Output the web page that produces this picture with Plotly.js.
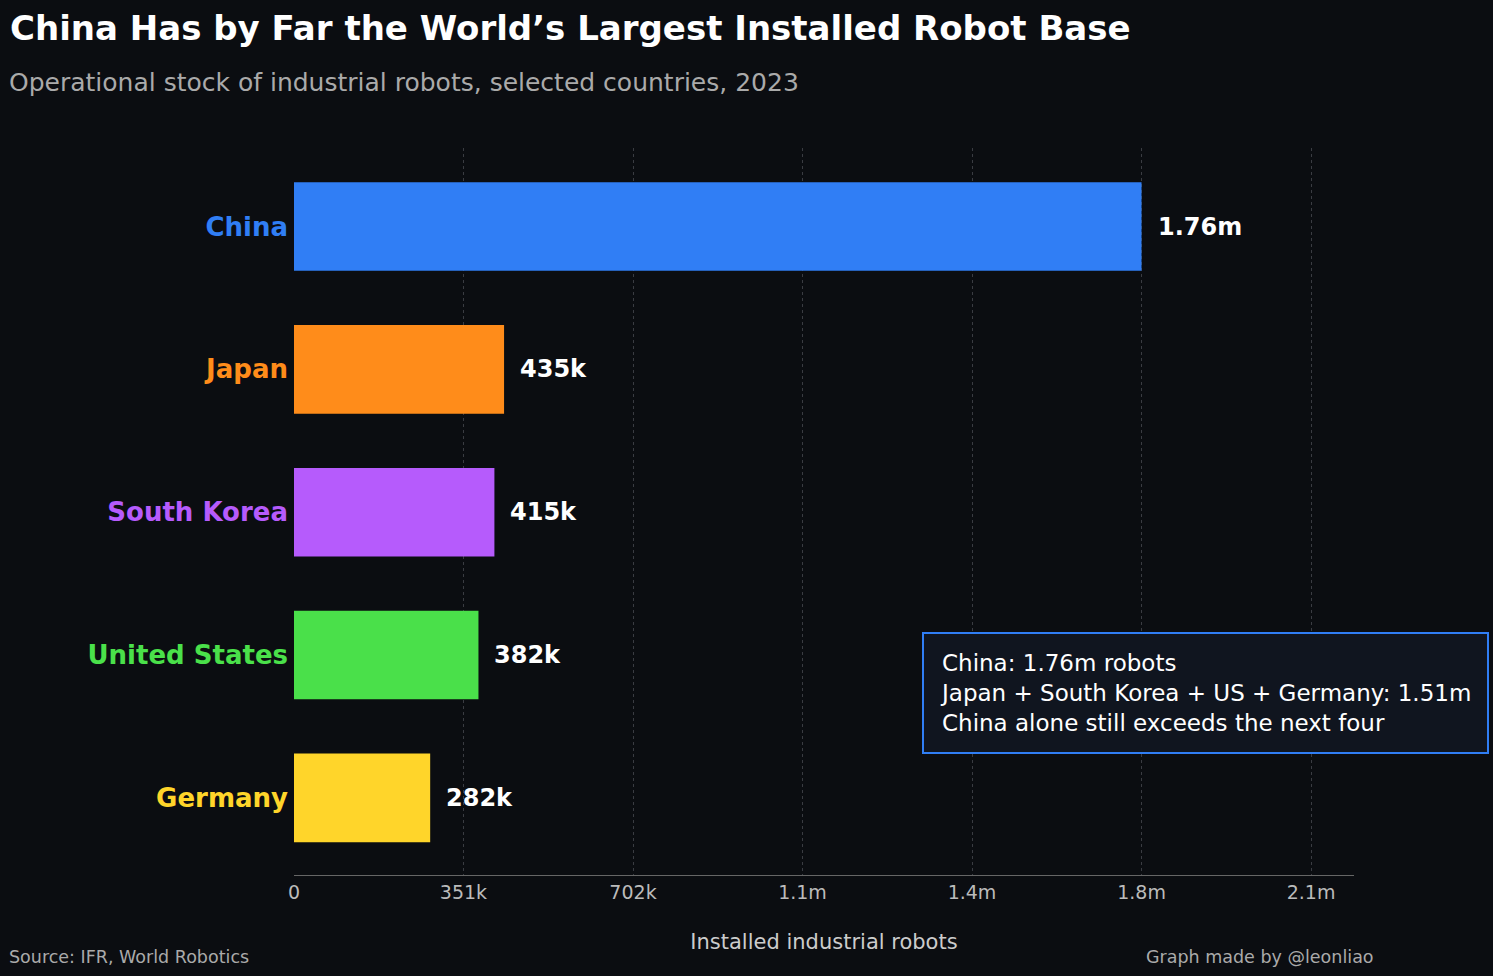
<!DOCTYPE html>
<html>
<head>
<meta charset="utf-8">
<script src="https://cdn.plot.ly/plotly-3.0.1.min.js"></script>
<style>
  html, body { margin: 0; padding: 0; background: #0b0d11; }
  #chart { width: 1493px; height: 976px; }
</style>
</head>
<body>
<div id="chart"></div>
<script>
// data
const countries = ["China", "Japan", "South Korea", "United States", "Germany"];
const robots = [1755000, 435000, 415000, 382000, 282000];
const valueLabels = ["1.76m", "435k", "415k", "382k", "282k"];
const barColors = ["#307ef5", "#ff8c1a", "#b65bfc", "#4ae04a", "#ffd52a"];
const tickValues = [0, 351000, 702000, 1053000, 1404000, 1755000, 2106000];
const tickLabels = ["0", "351k", "702k", "1.1m", "1.4m", "1.8m", "2.1m"];

const font = "DejaVu Sans, sans-serif";

// reversed so China sits on top
const yIdx = countries.map((_, i) => countries.length - 1 - i);

const trace = {
  type: "bar",
  orientation: "h",
  x: robots,
  y: yIdx,
  marker: { color: barColors },
  width: 0.62,
  hoverinfo: "skip",
};

const valueNotes = robots.map((v, i) => ({
  x: v, y: yIdx[i], xref: "x", yref: "y",
  text: "<b>" + valueLabels[i] + "</b>",
  showarrow: false, xanchor: "left", xshift: 14,
  font: { family: font, size: 24, color: "#ffffff" },
}));

const layout = {
  width: 1493, height: 976,
  paper_bgcolor: "#0b0d11", plot_bgcolor: "#0b0d11",
  margin: { l: 294, r: 139, t: 148, b: 101 },
  showlegend: false,
  font: { family: font, color: "#cccccc" },
  title: {
    text: "<b>China Has by Far the World’s Largest Installed Robot Base</b>",
    xref: "container", x: 10 / 1493, xanchor: "left",
    yref: "container", y: 1 - 28 / 976, yanchor: "middle",
    font: { family: font, size: 34, color: "#ffffff" },
  },
  xaxis: {
    range: [0, 2195000],
    tickvals: tickValues, ticktext: tickLabels,
    tickfont: { size: 19, color: "#bbbbbb" },
    showgrid: true, gridcolor: "#3a3c42", griddash: "dot", gridwidth: 1,
    zeroline: false, showline: true, linecolor: "#666666",
    ticks: "", ticklen: 4,
    title: { text: "Installed industrial robots", font: { size: 21, color: "#cccccc" }, standoff: 32 },
  },
  yaxis: {
    range: [-0.54, 4.55],
    tickvals: yIdx,
    ticktext: countries.map((c, i) => `<b><span style="color:${barColors[i]}">${c}</span></b>`),
    tickfont: { size: 26 },
    ticklabelstandoff: 5,
    showgrid: false, zeroline: false, ticks: "",
  },
  annotations: [
    {
      text: "Operational stock of industrial robots, selected countries, 2023",
      xref: "paper", yref: "paper", x: -0.2705, y: 1.09, xanchor: "left", yanchor: "middle",
      showarrow: false, font: { family: font, size: 25, color: "#aaaaaa" },
    },
    {
      text: "Source: IFR, World Robotics",
      xref: "paper", yref: "paper", x: -0.2705, y: -0.113, xanchor: "left", yanchor: "middle",
      showarrow: false, font: { family: font, size: 17.5, color: "#aaaaaa" },
    },
    {
      text: "Graph made by @leonliao",
      xref: "paper", yref: "paper", x: 1.0208, y: -0.113, xanchor: "right", yanchor: "middle",
      showarrow: false, font: { family: font, size: 17.5, color: "#aaaaaa" },
    },
    {
      text: "China: 1.76m robots<br>Japan + South Korea + US + Germany: 1.51m<br>China alone still exceeds the next four",
      xref: "paper", yref: "paper", x: 0.5925, y: 0.25, xanchor: "left", yanchor: "middle",
      align: "left", showarrow: false,
      bgcolor: "#10151f", bordercolor: "#307ef5", borderwidth: 2, borderpad: 16,
      font: { family: font, size: 23, color: "#ffffff" },
    },
    ...valueNotes,
  ],
};

Plotly.newPlot("chart", [trace], layout, { displayModeBar: false, staticPlot: true });
</script>
</body>
</html>
